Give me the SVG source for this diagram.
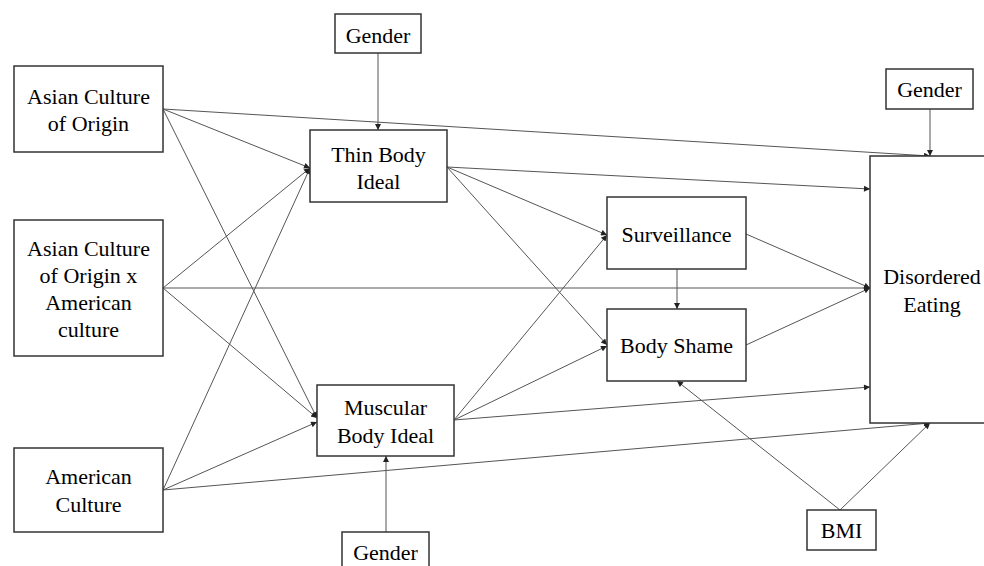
<svg xmlns="http://www.w3.org/2000/svg" width="984" height="566" viewBox="0 0 984 566">
<style>
.box{fill:#fff;stroke:#333;stroke-width:1.5}
.c line{stroke:#555;stroke-width:1;marker-end:url(#ah)}
</style>
<defs>
<marker id="ah" viewBox="0 0 10 10" refX="10" refY="5" markerWidth="8" markerHeight="6" markerUnits="userSpaceOnUse" orient="auto"><path d="M0,0 L10,5 L0,10 z" fill="#222"/></marker>
</defs>
<rect width="984" height="566" fill="#fff"/>
<g class="c" id="connectors">
<line x1="378" y1="53" x2="378" y2="130"/>
<line x1="930" y1="109" x2="930" y2="156"/>
<line x1="386" y1="532" x2="386" y2="456"/>
<line x1="163" y1="109" x2="310" y2="168"/>
<line x1="163" y1="109" x2="930" y2="156"/>
<line x1="163" y1="109" x2="317" y2="418"/>
<line x1="163" y1="288" x2="310" y2="168"/>
<line x1="163" y1="288" x2="870" y2="288"/>
<line x1="163" y1="288" x2="317" y2="418"/>
<line x1="163" y1="490" x2="310" y2="168"/>
<line x1="163" y1="490" x2="317" y2="422"/>
<line x1="163" y1="490" x2="930" y2="423"/>
<line x1="447" y1="167" x2="870" y2="189"/>
<line x1="447" y1="167" x2="607" y2="235"/>
<line x1="447" y1="167" x2="607" y2="345"/>
<line x1="454" y1="420" x2="607" y2="235"/>
<line x1="454" y1="420" x2="607" y2="346"/>
<line x1="454" y1="420" x2="870" y2="387"/>
<line x1="746" y1="234" x2="870" y2="288"/>
<line x1="746" y1="345" x2="870" y2="288"/>
<line x1="677" y1="269" x2="677" y2="309"/>
<line x1="840" y1="510" x2="677" y2="381"/>
<line x1="840" y1="510" x2="930" y2="423"/>
</g>
<g id="gender-top"><rect class="box" x="335" y="14" width="86" height="39"/><text font-family="Liberation Serif" font-size="22" text-anchor="middle" x="378" y="43">Gender</text></g>
<g id="asian-culture"><rect class="box" x="14" y="66" width="149" height="86"/><text font-family="Liberation Serif" font-size="22" text-anchor="middle" x="88.5" y="104">Asian Culture</text><text font-family="Liberation Serif" font-size="22" text-anchor="middle" x="88.5" y="131">of Origin</text></g>
<g id="interaction"><rect class="box" x="14" y="220" width="149" height="136"/><text font-family="Liberation Serif" font-size="22" text-anchor="middle" x="88.5" y="256">Asian Culture</text><text font-family="Liberation Serif" font-size="22" text-anchor="middle" x="88.5" y="283">of Origin x</text><text font-family="Liberation Serif" font-size="22" text-anchor="middle" x="88.5" y="310">American</text><text font-family="Liberation Serif" font-size="22" text-anchor="middle" x="88.5" y="337">culture</text></g>
<g id="american-culture"><rect class="box" x="14" y="448" width="149" height="84"/><text font-family="Liberation Serif" font-size="22" text-anchor="middle" x="88.5" y="484">American</text><text font-family="Liberation Serif" font-size="22" text-anchor="middle" x="88.5" y="512">Culture</text></g>
<g id="thin-ideal"><rect class="box" x="310" y="130" width="137" height="72"/><text font-family="Liberation Serif" font-size="22" text-anchor="middle" x="378.5" y="162">Thin Body</text><text font-family="Liberation Serif" font-size="22" text-anchor="middle" x="378.5" y="189">Ideal</text></g>
<g id="muscular-ideal"><rect class="box" x="317" y="385" width="137" height="71"/><text font-family="Liberation Serif" font-size="22" text-anchor="middle" x="385.5" y="415">Muscular</text><text font-family="Liberation Serif" font-size="22" text-anchor="middle" x="385.5" y="443">Body Ideal</text></g>
<g id="gender-bottom"><rect class="box" x="342" y="532" width="87" height="44"/><text font-family="Liberation Serif" font-size="22" text-anchor="middle" x="385.5" y="560">Gender</text></g>
<g id="surveillance"><rect class="box" x="607" y="197" width="139" height="72"/><text font-family="Liberation Serif" font-size="22" text-anchor="middle" x="676.5" y="242">Surveillance</text></g>
<g id="body-shame"><rect class="box" x="607" y="309" width="139" height="72"/><text font-family="Liberation Serif" font-size="22" text-anchor="middle" x="676.5" y="353">Body Shame</text></g>
<g id="gender-right"><rect class="box" x="886" y="69" width="87" height="40"/><text font-family="Liberation Serif" font-size="22" text-anchor="middle" x="929.5" y="97">Gender</text></g>
<g id="disordered-eating"><rect class="box" x="870" y="156" width="130" height="267"/><text font-family="Liberation Serif" font-size="22" text-anchor="middle" x="932" y="284">Disordered</text><text font-family="Liberation Serif" font-size="22" text-anchor="middle" x="932" y="312">Eating</text></g>
<g id="bmi"><rect class="box" x="807" y="510" width="69" height="40"/><text font-family="Liberation Serif" font-size="22" text-anchor="middle" x="841.5" y="538">BMI</text></g>
</svg>
